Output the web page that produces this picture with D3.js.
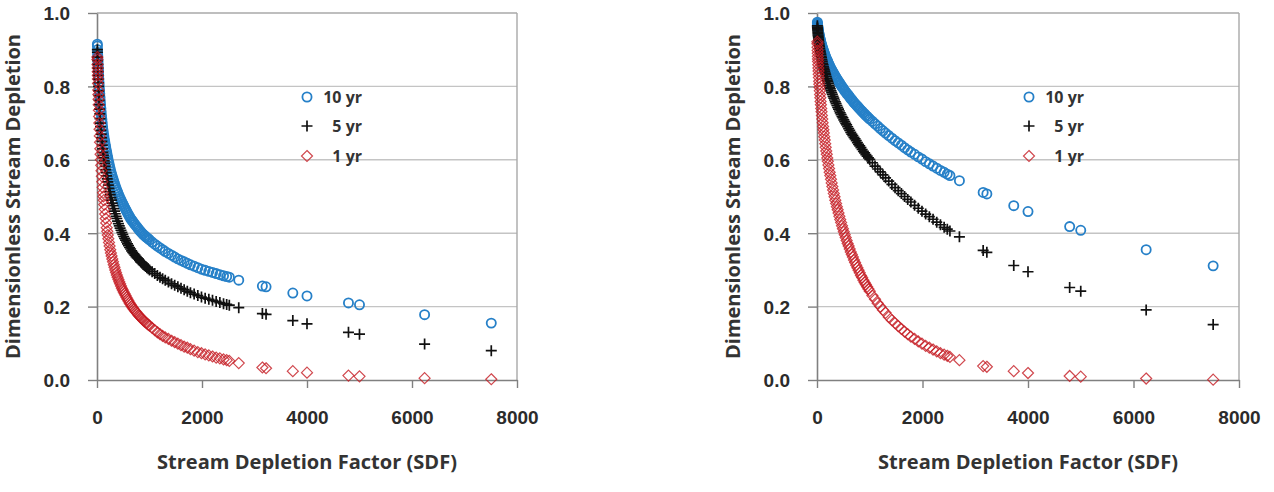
<!DOCTYPE html>
<html>
<head>
<meta charset="utf-8">
<script src="https://cdnjs.cloudflare.com/ajax/libs/d3/7.8.5/d3.min.js"></script>
<style>
    body { margin: 0; background: #fff; }
    svg { display: block; font-family: "Open Sans", "Noto Sans", sans-serif; }
    .tick-label { font-weight: 700; fill: #2b2b2b; }
</style>
</head>
<body>
<div id="chart"></div>
<script>
    // Stream depletion factor of each well (shared by all series)
    var sdf = [7, 10, 14, 18, 23, 29, 36, 44, 53, 63, 74, 86, 100, 115, 130, 147, 165, 185, 205, 228,
        252, 278, 305, 333, 362, 392, 424, 457, 491, 526, 562, 600, 640, 680, 722, 766, 810, 856, 903, 950,
        1000, 1050, 1100, 1150, 1200, 1250, 1300, 1360, 1420, 1480, 1540, 1600, 1660, 1720, 1780, 1850, 1920, 1990, 2060, 2130,
        2200, 2270, 2340, 2410, 2470, 2520, 2700, 3150, 3220, 3730, 4000, 4790, 5000, 6240, 7510,
        // more wells below 1000
        8, 12, 16, 20, 26, 32, 40, 48, 58, 68, 80, 93, 107, 122, 138, 156, 175, 195, 216, 240,
        265, 291, 319, 347, 377, 408, 440, 474, 508, 544, 581, 620, 660, 701, 744, 788, 833, 880, 926, 975];

    // Left panel
    var leftTen = [0.915, 0.900, 0.885, 0.870, 0.855, 0.840, 0.820, 0.800, 0.780, 0.760, 0.740, 0.720, 0.700, 0.680, 0.665, 0.650, 0.635, 0.620, 0.605, 0.590,
        0.575, 0.560, 0.548, 0.535, 0.523, 0.512, 0.500, 0.490, 0.480, 0.470, 0.460, 0.450, 0.440, 0.432, 0.424, 0.416, 0.408, 0.400, 0.394, 0.388,
        0.382, 0.376, 0.370, 0.365, 0.360, 0.355, 0.350, 0.345, 0.340, 0.335, 0.330, 0.326, 0.322, 0.318, 0.314, 0.310, 0.306, 0.302, 0.299, 0.296,
        0.293, 0.290, 0.287, 0.284, 0.282, 0.280, 0.272, 0.256, 0.254, 0.237, 0.229, 0.210, 0.205, 0.178, 0.155,
        0.910, 0.892, 0.877, 0.863, 0.847, 0.830, 0.810, 0.790, 0.770, 0.750, 0.730, 0.710, 0.690, 0.672, 0.657, 0.642, 0.627, 0.612, 0.597, 0.582,
        0.567, 0.554, 0.541, 0.529, 0.517, 0.506, 0.495, 0.485, 0.475, 0.465, 0.455, 0.445, 0.436, 0.428, 0.420, 0.412, 0.404, 0.397, 0.391, 0.385];
    var leftFive = [0.900, 0.880, 0.860, 0.840, 0.820, 0.800, 0.775, 0.750, 0.725, 0.700, 0.680, 0.660, 0.640, 0.620, 0.605, 0.590, 0.573, 0.556, 0.540, 0.522,
        0.505, 0.490, 0.475, 0.460, 0.446, 0.433, 0.420, 0.408, 0.397, 0.386, 0.376, 0.366, 0.357, 0.348, 0.340, 0.333, 0.326, 0.319, 0.312, 0.306,
        0.300, 0.295, 0.290, 0.285, 0.280, 0.276, 0.272, 0.267, 0.262, 0.258, 0.254, 0.250, 0.246, 0.242, 0.238, 0.234, 0.230, 0.226, 0.223, 0.220,
        0.217, 0.214, 0.211, 0.208, 0.206, 0.204, 0.197, 0.181, 0.179, 0.162, 0.153, 0.130, 0.125, 0.098, 0.080,
        0.893, 0.870, 0.850, 0.830, 0.810, 0.788, 0.762, 0.738, 0.712, 0.690, 0.670, 0.650, 0.630, 0.612, 0.597, 0.582, 0.565, 0.548, 0.531, 0.513,
        0.497, 0.482, 0.467, 0.453, 0.440, 0.426, 0.414, 0.402, 0.391, 0.381, 0.371, 0.361, 0.352, 0.344, 0.336, 0.330, 0.322, 0.315, 0.309, 0.303];
    var leftOne = [0.880, 0.860, 0.840, 0.820, 0.790, 0.765, 0.735, 0.700, 0.665, 0.630, 0.600, 0.570, 0.540, 0.510, 0.490, 0.465, 0.440, 0.415, 0.395, 0.375,
        0.355, 0.338, 0.322, 0.307, 0.293, 0.280, 0.268, 0.256, 0.245, 0.235, 0.225, 0.215, 0.206, 0.197, 0.189, 0.181, 0.174, 0.167, 0.160, 0.154,
        0.148, 0.142, 0.136, 0.130, 0.125, 0.120, 0.116, 0.112, 0.107, 0.103, 0.099, 0.095, 0.091, 0.088, 0.084, 0.080, 0.076, 0.073, 0.070, 0.067,
        0.064, 0.061, 0.059, 0.056, 0.054, 0.052, 0.046, 0.034, 0.032, 0.024, 0.020, 0.012, 0.010, 0.005, 0.002,
        0.873, 0.850, 0.830, 0.808, 0.778, 0.750, 0.718, 0.683, 0.648, 0.615, 0.585, 0.555, 0.525, 0.500, 0.478, 0.452, 0.428, 0.405, 0.385, 0.365,
        0.346, 0.330, 0.314, 0.300, 0.286, 0.274, 0.262, 0.250, 0.240, 0.230, 0.220, 0.210, 0.201, 0.193, 0.185, 0.177, 0.170, 0.163, 0.157, 0.151];

    // Right panel
    var rightTen = [0.975, 0.970, 0.965, 0.960, 0.955, 0.950, 0.944, 0.938, 0.932, 0.926, 0.920, 0.913, 0.907, 0.900, 0.894, 0.887, 0.880, 0.873, 0.867, 0.859,
        0.852, 0.845, 0.838, 0.831, 0.824, 0.817, 0.810, 0.803, 0.796, 0.788, 0.781, 0.775, 0.767, 0.760, 0.753, 0.746, 0.739, 0.732, 0.725, 0.718,
        0.711, 0.705, 0.698, 0.692, 0.685, 0.679, 0.673, 0.666, 0.659, 0.652, 0.646, 0.640, 0.633, 0.627, 0.621, 0.615, 0.608, 0.602, 0.595, 0.589,
        0.583, 0.577, 0.571, 0.566, 0.561, 0.557, 0.543, 0.511, 0.507, 0.475, 0.459, 0.418, 0.408, 0.355, 0.311,
        0.972, 0.967, 0.962, 0.958, 0.952, 0.947, 0.941, 0.935, 0.929, 0.923, 0.916, 0.910, 0.903, 0.897, 0.890, 0.883, 0.876, 0.870, 0.863, 0.855,
        0.848, 0.841, 0.834, 0.827, 0.820, 0.813, 0.806, 0.799, 0.792, 0.785, 0.778, 0.771, 0.764, 0.756, 0.749, 0.742, 0.735, 0.728, 0.721, 0.714];
    var rightFive = [0.965, 0.958, 0.951, 0.944, 0.937, 0.929, 0.921, 0.912, 0.904, 0.895, 0.887, 0.878, 0.868, 0.859, 0.850, 0.841, 0.832, 0.822, 0.813, 0.803,
        0.793, 0.783, 0.773, 0.763, 0.753, 0.743, 0.733, 0.723, 0.714, 0.704, 0.695, 0.685, 0.675, 0.666, 0.657, 0.647, 0.638, 0.628, 0.619, 0.610,
        0.601, 0.592, 0.583, 0.575, 0.567, 0.559, 0.551, 0.542, 0.533, 0.524, 0.516, 0.508, 0.500, 0.492, 0.485, 0.476, 0.468, 0.460, 0.452, 0.445,
        0.438, 0.430, 0.423, 0.416, 0.411, 0.406, 0.390, 0.353, 0.348, 0.312, 0.295, 0.252, 0.242, 0.191, 0.151,
        0.961, 0.954, 0.947, 0.940, 0.933, 0.925, 0.916, 0.908, 0.899, 0.891, 0.882, 0.873, 0.863, 0.854, 0.845, 0.836, 0.827, 0.817, 0.808, 0.798,
        0.788, 0.778, 0.768, 0.758, 0.748, 0.738, 0.728, 0.718, 0.709, 0.699, 0.690, 0.680, 0.670, 0.661, 0.652, 0.642, 0.633, 0.623, 0.614, 0.605];
    var rightOne = [0.922, 0.907, 0.890, 0.875, 0.859, 0.842, 0.824, 0.806, 0.788, 0.769, 0.750, 0.731, 0.711, 0.691, 0.673, 0.654, 0.634, 0.615, 0.596, 0.576,
        0.557, 0.537, 0.518, 0.499, 0.481, 0.464, 0.446, 0.429, 0.412, 0.396, 0.380, 0.365, 0.349, 0.335, 0.320, 0.306, 0.292, 0.279, 0.266, 0.254,
        0.242, 0.230, 0.220, 0.209, 0.200, 0.191, 0.183, 0.172, 0.163, 0.155, 0.147, 0.139, 0.132, 0.125, 0.118, 0.112, 0.105, 0.099, 0.093, 0.088,
        0.083, 0.078, 0.073, 0.069, 0.066, 0.063, 0.054, 0.038, 0.036, 0.024, 0.019, 0.011, 0.009, 0.004, 0.001,
        0.916, 0.898, 0.882, 0.868, 0.850, 0.833, 0.814, 0.797, 0.778, 0.759, 0.740, 0.721, 0.701, 0.682, 0.663, 0.644, 0.624, 0.605, 0.586, 0.566,
        0.547, 0.527, 0.508, 0.490, 0.472, 0.455, 0.437, 0.420, 0.404, 0.388, 0.372, 0.357, 0.342, 0.327, 0.313, 0.299, 0.285, 0.272, 0.260, 0.248];

    var xTicks = [0, 2000, 4000, 6000, 8000];
    var yTicks = [0, 0.2, 0.4, 0.6, 0.8, 1.0];
    var seriesNames = ["10 yr", "5 yr", "1 yr"];
    var xTitle = "Stream Depletion Factor (SDF)";
    var yTitle = "Dimensionless Stream Depletion";

    var width = 1274, height = 492;
    var plotTop = 13, plotBottom = 380;

    var svg = d3.select("#chart").append("svg")
        .attr("width", width)
        .attr("height", height);

    // marker paths
    var markers = {
        circle: { d: d3.symbol().type(d3.symbolCircle).size(66)(), stroke: "#2680c8", width: 1.8, opacity: 1 },
        plus: { d: "M-5.5,0H5.5M0,-5.5V5.5", stroke: "#111", width: 1.7, opacity: 1 },
        diamond: { d: "M0,-5.5L5.5,0L0,5.5L-5.5,0Z", stroke: "#c41a22", width: 1.2, opacity: 0.8 }
    };
    var kinds = ["circle", "plus", "diamond"];

    function drawPanel(left, right, values, legendX) {
        var x = d3.scaleLinear().domain([0, 8000]).range([left, right]);
        var y = d3.scaleLinear().domain([0, 1]).range([plotBottom, plotTop]);
        var g = svg.append("g");

        // gridlines
        g.append("g").selectAll("line").data(yTicks.filter(function(d) { return d > 0; }))
            .enter().append("line")
            .attr("x1", left).attr("x2", right)
            .attr("y1", function(d) { return y(d); })
            .attr("y2", function(d) { return y(d); })
            .attr("stroke", function(d) { return d === 1 ? "#a8a8a8" : "#c4c4c4"; })
            .attr("stroke-width", 1.4);
        g.append("line")
            .attr("x1", right).attr("x2", right)
            .attr("y1", plotTop).attr("y2", plotBottom)
            .attr("stroke", "#a8a8a8").attr("stroke-width", 1.4);

        // axes
        var yAxis = g.append("g")
            .attr("transform", "translate(" + left + ",0)")
            .call(d3.axisLeft(y).tickValues(yTicks).tickFormat(d3.format(".1f")).tickSize(9).tickSizeOuter(0));
        var xAxis = g.append("g")
            .attr("transform", "translate(0," + plotBottom + ")")
            .call(d3.axisBottom(x).tickValues(xTicks).tickFormat(d3.format("d")).tickSize(8).tickSizeOuter(0));
        [yAxis, xAxis].forEach(function(a) {
            a.select(".domain").attr("stroke", "#808080").attr("stroke-width", 1.6);
            a.selectAll(".tick line").attr("stroke", "#808080").attr("stroke-width", 1.4);
            a.selectAll("text").attr("class", "tick-label").style("font-size", "19px").attr("font-family", null).attr("fill", "#2b2b2b");
        });
        yAxis.selectAll("text").attr("x", -27).attr("dy", "0.36em");
        xAxis.selectAll("text").attr("y", 44).attr("dy", null);

        // titles
        g.append("text")
            .attr("transform", "translate(" + (left - 84) + "," + ((plotTop + plotBottom) / 2) + ") rotate(-90)")
            .attr("text-anchor", "middle")
            .attr("dy", "0.35em")
            .attr("textLength", 325).attr("lengthAdjust", "spacingAndGlyphs")
            .style("font-size", "19px").style("font-weight", 700).attr("fill", "#333")
            .text(yTitle);
        g.append("text")
            .attr("x", (left + right) / 2).attr("y", 469)
            .attr("text-anchor", "middle")
            .attr("textLength", 300).attr("lengthAdjust", "spacingAndGlyphs")
            .style("font-size", "19px").style("font-weight", 700).attr("fill", "#333")
            .text(xTitle);

        // points: 10 yr first, 1 yr on top
        values.forEach(function(vals, i) {
            var m = markers[kinds[i]];
            g.append("g").selectAll("path").data(vals)
                .enter().append("path")
                .attr("d", m.d)
                .attr("transform", function(d, j) { return "translate(" + x(sdf[j]) + "," + y(d) + ")"; })
                .attr("fill", "none")
                .attr("stroke", m.stroke)
                .attr("stroke-opacity", m.opacity)
                .attr("stroke-width", m.width);
        });

        // legend
        var rows = [97, 126, 156];
        var leg = g.append("g");
        seriesNames.forEach(function(name, i) {
            var m = markers[kinds[i]];
            leg.append("path")
                .attr("d", m.d)
                .attr("transform", "translate(" + legendX + "," + rows[i] + ")")
                .attr("fill", "none").attr("stroke", m.stroke)
                .attr("stroke-opacity", m.opacity).attr("stroke-width", m.width);
            leg.append("text")
                .attr("x", legendX + 55).attr("y", rows[i])
                .attr("dy", "0.35em")
                .attr("text-anchor", "end")
                .style("font-size", "16px").style("font-weight", 700).attr("fill", "#333")
                .text(name);
        });
    }

    drawPanel(97, 517, [leftTen, leftFive, leftOne], 307);
    drawPanel(817, 1239, [rightTen, rightFive, rightOne], 1029);
</script>
</body>
</html>
